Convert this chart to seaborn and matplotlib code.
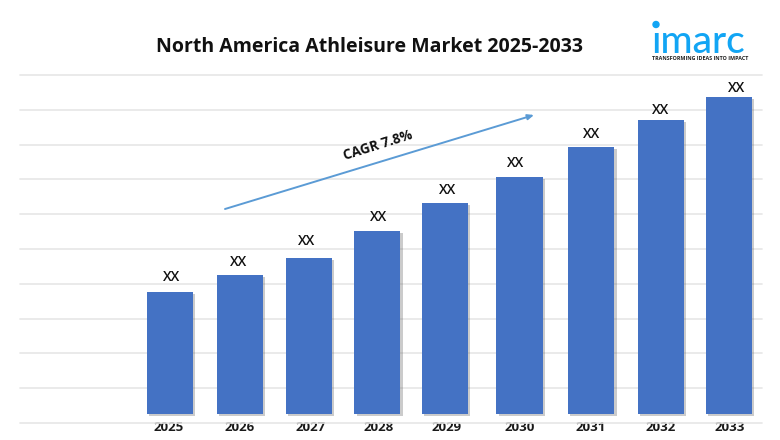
import matplotlib
matplotlib.use("Agg")
import matplotlib.pyplot as plt
import matplotlib.patheffects as pe
from matplotlib.patches import Circle
import seaborn as sns
import pandas as pd

years = ["2025", "2026", "2027", "2028", "2029", "2030", "2031", "2032", "2033"]
values = [3.5, 4.0, 4.47, 5.25, 6.05, 6.82, 7.68, 8.46, 9.12]
bar_labels = ["XX"] * 9
title = "North America Athleisure Market 2025-2033"
cagr = "CAGR 7.8%"

# hand-placed drift of the reference, in pixels
bar_nudge = [0, 0, -0.5, -2, -4, 0.5, 2.5, 2, 0.5]
tick_nudge = [-1, -0.5, 0.5, -1, -3, 1, 2, 2, 1]
label_dx = [2, -1, -2.5, 1, 2, -3.5, 0.5, 0, 7.5]
label_gap = [15, 13, 17, 14, 13, 14, 13, 10, 9]

W, H = 780, 440
sns.set_theme(style="white")
plt.rcParams["font.family"] = ["Open Sans", "DejaVu Sans"]
fig = plt.figure(figsize=(W / 100, H / 100), dpi=100, facecolor="white")
L, R, T, B = 20, 762, 75, 423
ax = fig.add_axes([L / W, 1 - B / H, (R - L) / W, (B - T) / H])

df = pd.DataFrame({"year": years, "value": values})
sns.barplot(data=df, x="year", y="value", color="#4472C4", saturation=1, width=0.66, ax=ax, zorder=3, linewidth=0)

x0, dx = 170, 69.8
ax.set_xlim((L - x0) / dx, (R - x0) / dx)
y_unit = 34.8
y_low = -(B - 414) / y_unit
ax.set_ylim(y_low, y_low + 10)
ax.set_yticks([y_low + k for k in range(11)])
ax.set_yticklabels([])
ax.grid(axis="y", color="#e6e6e6", linewidth=1.2, zorder=0)
ax.grid(axis="x", visible=False)
for line in ax.get_ygridlines():
    line.set_clip_on(False)
for s in ax.spines.values():
    s.set_visible(False)
ax.set_xlabel("")
ax.set_ylabel("")
ax.tick_params(axis="both", length=0)
ax.set_xticks([i + n / dx for i, n in enumerate(tick_nudge)])
ax.set_xticklabels(years)
ax.tick_params(axis="x", pad=-1.5, labelsize=9.5)
for t in ax.get_xticklabels():
    t.set_fontweight("bold")
    t.set_color("#1a1a1a")

shadow = [pe.SimplePatchShadow(offset=(1.6, -1.4), shadow_rgbFace="#555555", alpha=0.3), pe.Normal()]
for p, n in zip(ax.patches, bar_nudge):
    p.set_x(p.get_x() + n / dx)
    p.set_path_effects(shadow)

for i, (v, lab) in enumerate(zip(values, bar_labels)):
    ax.annotate(lab, (i + bar_nudge[i] / dx, v), xytext=(label_dx[i] * 0.72, label_gap[i] * 0.72),
                textcoords="offset points", ha="center", va="center",
                fontsize=10, fontweight="semibold", color="#111111", zorder=5)

def fx(px):
    return px / W
def fy(py):
    return 1 - py / H

fig.text(fx(369.5), fy(47.5), title, ha="center", va="center", fontsize=14.0, fontweight="bold", color="#111111")

ax.annotate("", xy=(fx(534), fy(115)), xytext=(fx(225), fy(209)), xycoords="figure fraction", textcoords="figure fraction",
            arrowprops=dict(arrowstyle="-|>,head_width=0.13,head_length=0.3", color="#5B9BD5", lw=1.4, shrinkA=0, shrinkB=0), zorder=6)
fig.text(fx(378), fy(145), cagr, rotation=17.5, ha="center", va="center", rotation_mode="anchor",
         fontsize=9.8, fontweight="bold", color="#111111")

logo = "#12a5f4"
fig.text(fx(651), fy(53), "\u0131marc", ha="left", va="baseline", fontsize=28, fontweight="medium", color=logo, family=["Lato", "DejaVu Sans"])
fig.add_artist(Circle((656, H - 24.5), 3, transform=None, color=logo))
fig.text(fx(652), fy(59), "TRANSFORMING IDEAS INTO IMPACT", ha="left", va="center", fontsize=3.9, fontweight="bold", color="#222222")

fig.savefig("out.png", dpi=100)
